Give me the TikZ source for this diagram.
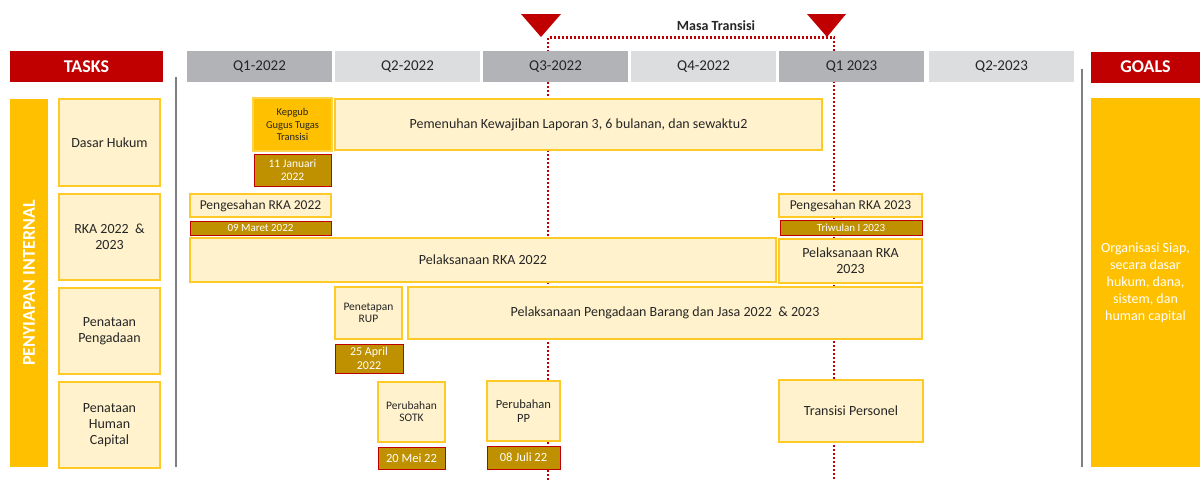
\documentclass[tikz,border=0pt]{standalone}
\usepackage{fontspec}
\setmainfont{Carlito}
\definecolor{tsred}{HTML}{C00000}
\definecolor{qdarkgrey}{HTML}{B1B3B6}
\definecolor{qlightgrey}{HTML}{DCDDDF}
\definecolor{gold}{HTML}{FFC000}
\definecolor{liteyellow}{HTML}{FFF2CC}
\definecolor{dategold}{HTML}{BF9000}
\definecolor{txt}{HTML}{262626}
\tikzset{
  hdr/.style={inner sep=0pt, minimum height=31pt, minimum width=145pt, text=txt,
    font=\fontsize{15}{18}\selectfont},
  qdark/.style={hdr, fill=qdarkgrey},
  qlight/.style={hdr, fill=qlightgrey},
  redhdr/.style={inner sep=0pt, minimum height=31pt, fill=tsred, text=white,
    font=\fontsize{18}{21}\selectfont\bfseries},
  lite/.style={fill=liteyellow, draw=gold!85, line width=1.2pt, inner sep=0pt,
    align=center, text=txt, font=\fontsize{14}{16}\selectfont},
  datebox/.style={fill=dategold, draw=tsred, line width=1pt, inner sep=0pt,
    align=center, text=white, font=\fontsize{11.5}{13.5}\selectfont},
  transit/.style={tsred, line width=2.5pt, dash pattern=on 2pt off 2pt},
  sepline/.style={gray, line width=2.5pt},
}
\begin{document}
\begin{tikzpicture}[x=1pt, y=-1pt]
  \useasboundingbox (0,0) rectangle (1200,480);
  % masa transisi
  \coordinate (tA) at (548,37.5);
  \coordinate (tB) at (834,37.5);
  \coordinate (tAend) at (548,480);
  \coordinate (tBend) at (834,480);
  \draw[transit] (tAend) -- (tA) -- (tB) -- (tBend);
  \fill[tsred] (521,14) -- (561,14) -- (541,37) -- cycle;
  \fill[tsred] (807,14) -- (846,14) -- (827,37) -- cycle;
  \node[font=\fontsize{14}{16}\selectfont\bfseries, text=txt] (masa) at (716,26) {Masa Transisi};
  % headers
  \node[redhdr, minimum width=153pt] (tasks) at (86.5,66.5) {TASKS};
  \node[qdark]  (q1) at (259.5,66.5) {Q1-2022};
  \node[qlight] (q2) at (407.5,66.5) {Q2-2022};
  \node[qdark]  (q3) at (555.5,66.5) {Q3-2022};
  \node[qlight] (q4) at (703.5,66.5) {Q4-2022};
  \node[qdark]  (q5) at (851.5,66.5) {Q1 2023};
  \node[qlight] (q6) at (1001.5,66.5) {Q2-2023};
  \node[redhdr, minimum width=109pt] (goals) at (1145.5,67) {GOALS};
  % separators
  \draw[sepline] (176,77) -- (176,467);
  \draw[sepline] (1082,69) -- (1082,467);
  % side bar and task labels
  \node[fill=gold, rotate=90, minimum width=368pt, minimum height=38pt, inner sep=0pt,
    text=white, font=\fontsize{18}{21}\selectfont\bfseries] (side) at (29,283) {PENYIAPAN INTERNAL};
  \node[lite, minimum width=101pt, minimum height=87pt] (dasar) at (109.5,142.5) {Dasar Hukum};
  \node[lite, minimum width=101pt, minimum height=86pt] (rka) at (109.5,237) {RKA 2022\ \ \&\\2023};
  \node[lite, minimum width=101pt, minimum height=86pt] (pengadaan) at (109.5,331) {Penataan\\Pengadaan};
  \node[lite, minimum width=101pt, minimum height=86pt] (human) at (109.5,425) {Penataan\\Human\\Capital};
  % goals
  \node[fill=gold, minimum width=109pt, minimum height=369pt, inner sep=0pt, align=center,
    text=white, font=\fontsize{14}{17}\selectfont] (goalbox) at (1145.5,282.5)
    {Organisasi Siap,\\secara dasar\\hukum, dana,\\sistem, dan\\human capital};
  % dasar hukum
  \node[lite, fill=gold, draw=gold!70, minimum width=79pt, minimum height=53pt,
    font=\fontsize{10.5}{12.5}\selectfont] (kepgub) at (292.5,124.5) {Kepgub\\Gugus Tugas\\Transisi};
  \node[datebox, minimum width=77pt, minimum height=32pt] (jan) at (292.5,170) {11 Januari\\2022};
  \node[lite, minimum width=487pt, minimum height=51pt] (pemenuhan) at (578.5,124.5)
    {Pemenuhan Kewajiban Laporan 3, 6 bulanan, dan sewaktu2};
  % rka
  \node[lite, minimum width=141pt, minimum height=23pt, font=\fontsize{13.5}{16}\selectfont] (sah22) at (260.5,205.5) {Pengesahan RKA 2022};
  \node[datebox, minimum width=141pt, minimum height=14pt, font=\fontsize{11}{12}\selectfont] (maret) at (260.5,228) {09 Maret 2022};
  \node[lite, minimum width=586pt, minimum height=44pt] (pel22) at (483,260) {Pelaksanaan RKA 2022};
  \node[lite, minimum width=143pt, minimum height=23pt, font=\fontsize{13.5}{16}\selectfont] (sah23) at (850.5,205.5) {Pengesahan RKA 2023};
  \node[datebox, minimum width=142pt, minimum height=15pt, font=\fontsize{11}{12}\selectfont] (triwulan) at (851,227.5) {Triwulan I 2023};
  \node[lite, minimum width=143pt, minimum height=44pt] (pel23) at (850.5,261) {Pelaksanaan RKA\\2023};
  % pengadaan
  \node[lite, minimum width=67pt, minimum height=52pt, font=\fontsize{11.5}{12.5}\selectfont] (rup) at (368.5,313) {Penetapan\\RUP};
  \node[lite, minimum width=514pt, minimum height=52pt] (pbj) at (665,313)
    {Pelaksanaan Pengadaan Barang dan Jasa 2022\ \ \& 2023};
  \node[datebox, minimum width=68pt, minimum height=29pt, font=\fontsize{12}{13.5}\selectfont] (april) at (369,358.5) {25 April\\2022};
  % human capital
  \node[lite, minimum width=67pt, minimum height=60pt, font=\fontsize{11.5}{12}\selectfont] (sotk) at (411.5,412) {Perubahan\\SOTK};
  \node[datebox, minimum width=67pt, minimum height=22pt, font=\fontsize{12.5}{13}\selectfont] (mei) at (411.5,458) {20 Mei 22};
  \node[lite, minimum width=73pt, minimum height=60pt, font=\fontsize{12.5}{14}\selectfont] (pp) at (523.5,411) {Perubahan\\PP};
  \node[datebox, minimum width=73pt, minimum height=23pt, font=\fontsize{12.5}{13}\selectfont] (juli) at (523.5,457.5) {08 Juli 22};
  \node[lite, minimum width=144pt, minimum height=62pt] (personel) at (851,411) {Transisi Personel};
\end{tikzpicture}
\end{document}
